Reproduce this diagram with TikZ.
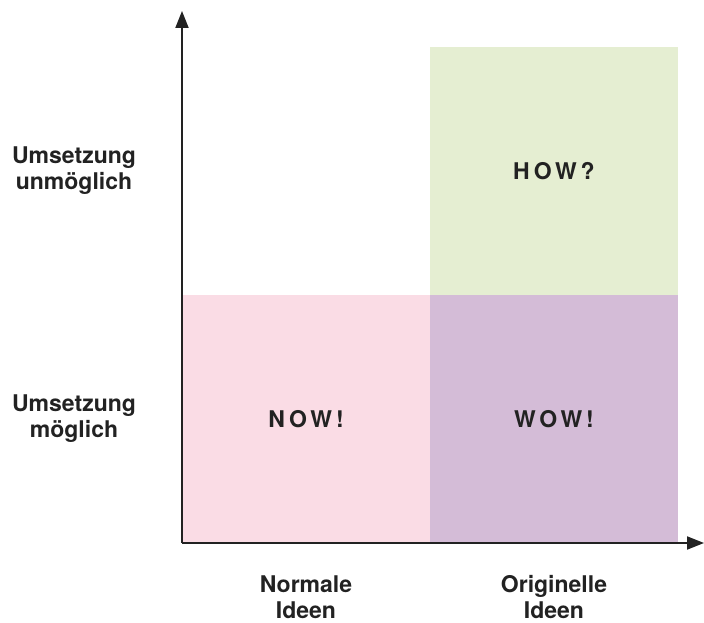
\documentclass[tikz,border=0pt]{standalone}
\usepackage{fontspec}
\setmainfont{TeX Gyre Heros}
\usetikzlibrary{arrows.meta}

\definecolor{nowpink}{HTML}{FADCE5}
\definecolor{wowlila}{HTML}{D4BCD7}
\definecolor{howgreen}{HTML}{E5EED2}
\definecolor{ink}{HTML}{222222}

\tikzset{
  field/.style={draw=none, inner sep=0pt, minimum width=248pt, minimum height=248pt},
  axis/.style={ink, line width=2pt, -{Triangle[length=17pt,width=13pt]}},
  lbl/.style={ink, align=center, font=\fontsize{23}{26}\selectfont\bfseries},
  tag/.style={ink, font=\fontsize{23}{26}\selectfont\bfseries\addfontfeatures{LetterSpace=17}}
}

\begin{document}
\begin{tikzpicture}[x=1pt,y=-1pt]
    \useasboundingbox (0,0) rectangle (704,623);
    % quadrants
    \node [field, fill=nowpink] (now) at (306,419) {};
    \node [field, fill=wowlila] (wow) at (554,419) {};
    \node [field, fill=howgreen] (how) at (554,171) {};
    \node [tag] (nowt) at (now) {NOW!};
    \node [tag] (wowt) at (wow) {WOW!};
    \node [tag] (howt) at (how) {HOW?};
    % axes
    \coordinate (o) at (182,543);
    \coordinate (ytop) at (182,11);
    \coordinate (xend) at (704,543);
    \draw [axis] (o) -- (ytop);
    \draw [axis] (o) -- (xend);
    % labels
    \node [lbl] (hi) at (74,171) {Umsetzung\\unmöglich};
    \node [lbl] (lo) at (74,419) {Umsetzung\\möglich};
    \node [lbl] (norm) at (306,597) {Normale\\Ideen};
    \node [lbl] (orig) at (554,597) {Originelle\\Ideen};
\end{tikzpicture}
\end{document}
